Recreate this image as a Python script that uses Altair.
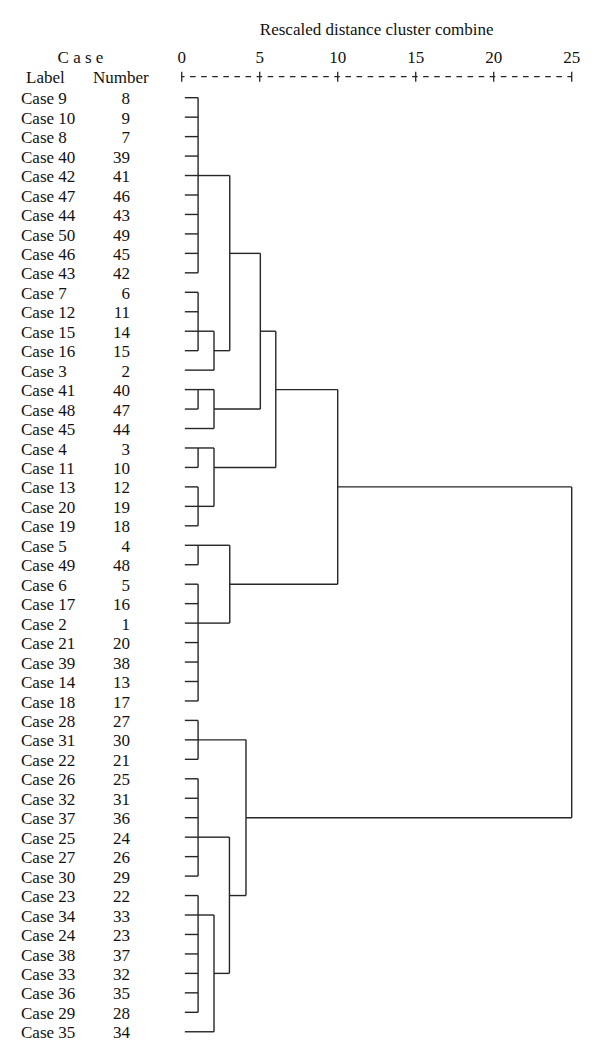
import altair as alt
import pandas as pd

# ---- data ----
labels = ["Case 9", "Case 10", "Case 8", "Case 40", "Case 42", "Case 47", "Case 44",
          "Case 50", "Case 46", "Case 43", "Case 7", "Case 12", "Case 15", "Case 16",
          "Case 3", "Case 41", "Case 48", "Case 45", "Case 4", "Case 11", "Case 13",
          "Case 20", "Case 19", "Case 5", "Case 49", "Case 6", "Case 17", "Case 2",
          "Case 21", "Case 39", "Case 14", "Case 18", "Case 28", "Case 31", "Case 22",
          "Case 26", "Case 32", "Case 37", "Case 25", "Case 27", "Case 30", "Case 23",
          "Case 34", "Case 24", "Case 38", "Case 33", "Case 36", "Case 29", "Case 35"]
numbers = [8, 9, 7, 39, 41, 46, 43, 49, 45, 42, 6, 11, 14, 15, 2, 40, 47, 44, 3, 10, 12,
           19, 18, 4, 48, 5, 16, 1, 20, 38, 13, 17, 27, 30, 21, 25, 31, 36, 24, 26, 29,
           22, 33, 23, 37, 32, 35, 28, 34]
tick_values = [0, 5, 10, 15, 20, 25]

# merge nodes: children are leaf rows (int) or node names (str)
node_names = ["n1", "n2", "n3", "n4", "n5", "n6", "n7", "n8", "n9", "n10", "n11",
              "n12", "n13", "n14", "n15", "n16", "n17", "n18", "n19", "n20", "n21", "n22"]
node_children = [list(range(1, 11)), [11, 12, 13, 14], ["n2", 15], ["n1", "n3"],
                 [16, 17], ["n5", 18], ["n4", "n6"], [19, 20], [21, 22, 23],
                 ["n8", "n9"], ["n7", "n10"], [24, 25], list(range(26, 33)),
                 ["n12", "n13"], ["n11", "n14"], [33, 34, 35], list(range(36, 42)),
                 list(range(42, 49)), ["n18", 49], ["n17", "n19"], ["n16", "n20"],
                 ["n15", "n21"]]
node_dist = [1.05, 1.05, 2.07, 3.08, 1.05, 2.07, 5.04, 1.05, 1.05, 2.07, 6.03,
             1.05, 1.05, 3.08, 10.0, 1.05, 1.05, 1.05, 2.07, 3.06, 4.12, 25.0]
node_join = [5, 13, 14, 9, 16, 17, 13, 19, 22, 20, 16, 24, 28, 26, 21, 34, 39, 43,
             46, 42, 38, 29]
leaf_start = 0.2

# ---- build segments ----
info = {n: (d, j) for n, d, j in zip(node_names, node_dist, node_join)}
segs = []
for name, kids, d in zip(node_names, node_children, node_dist):
    rows = []
    for k in kids:
        if isinstance(k, str):
            kx, kr = info[k]
        else:
            kx, kr = leaf_start, k
        rows.append(kr)
        segs.append({"x": kx, "x2": d, "y": kr, "y2": kr})
    segs.append({"x": d, "x2": d, "y": min(rows), "y2": max(rows)})
seg_df = pd.DataFrame(segs)

leaf_df = pd.DataFrame({"row": list(range(1, len(labels) + 1)),
                        "label": labels,
                        "number": [str(n) for n in numbers]})
tick_df = pd.DataFrame({"t": tick_values, "lab": [str(t) for t in tick_values]})
axis_df = pd.DataFrame({"a": [tick_values[0]], "b": [tick_values[-1]]})
one = pd.DataFrame({"z": [0]})

FONT = "Liberation Serif"
FS = 17
LINE = "#262626"

X = alt.Scale(domain=[-11.135, 26.30], nice=False, zero=False)
Y = alt.Scale(domain=[-3.609, 49.834], reverse=True, nice=False, zero=False)

lines = alt.Chart(seg_df).mark_rule(stroke=LINE, strokeWidth=1.4).encode(
    x=alt.X("x:Q", scale=X, axis=None), x2="x2",
    y=alt.Y("y:Q", scale=Y, axis=None), y2="y2")

case_txt = alt.Chart(leaf_df).mark_text(
    align="left", baseline="alphabetic", dy=6.6, font=FONT, fontSize=FS, color="#111"
).encode(x=alt.value(13), y=alt.Y("row:Q", scale=Y, axis=None), text="label:N")

num_txt = alt.Chart(leaf_df).mark_text(
    align="right", baseline="alphabetic", dy=6.6, font=FONT, fontSize=FS, color="#111"
).encode(x=alt.value(122), y=alt.Y("row:Q", scale=Y, axis=None), text="number:N")

tick_txt = alt.Chart(tick_df).mark_text(
    align="center", baseline="alphabetic", font=FONT, fontSize=FS, color="#111"
).encode(x=alt.X("t:Q", scale=X, axis=None), y=alt.value(55.3), text="lab:N")

tick_marks = alt.Chart(tick_df).mark_rule(stroke=LINE, strokeWidth=1.3).encode(
    x=alt.X("t:Q", scale=X, axis=None), y=alt.value(63.7), y2=alt.value(73.7))

dash_line = alt.Chart(axis_df).mark_rule(
    stroke=LINE, strokeWidth=1.3, strokeDash=[5.6, 5.5], strokeDashOffset=2.8
).encode(x=alt.X("a:Q", scale=X, axis=None), x2="b:Q", y=alt.value(68.7))

def header(text, x, y, align):
    return alt.Chart(one).mark_text(
        text=text, align=align, baseline="alphabetic", font=FONT, fontSize=FS, color="#111"
    ).encode(x=alt.value(x), y=alt.value(y))

title = header("Rescaled distance cluster combine", 368.7, 27, "center")
case_h = header("C a s e", 72.5, 55.3, "center")
label_h = header("Label", 18, 75, "left")
number_h = header("Number", 85, 75, "left")

chart = alt.layer(
    lines, case_txt, num_txt, tick_txt, tick_marks, dash_line,
    title, case_h, label_h, number_h
).properties(
    width=584, height=1040,
    autosize=alt.AutoSizeParams(type="none"), padding=0
).configure_view(stroke=None)

chart.save("out.html", embed_options={"renderer": "svg", "actions": False})
